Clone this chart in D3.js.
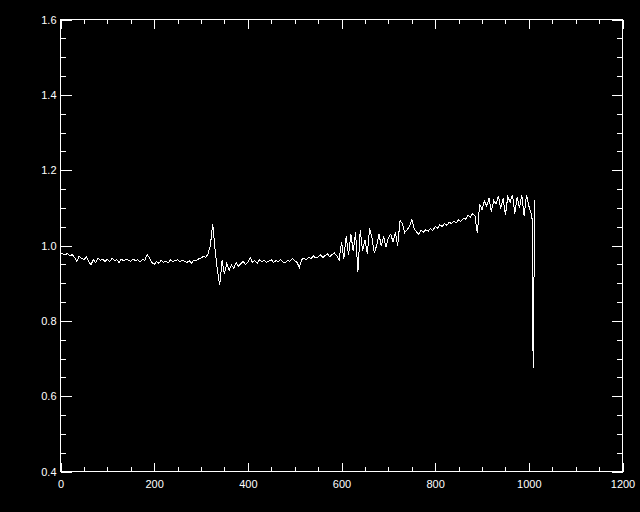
<!DOCTYPE html>
<html>
<head>
<meta charset="utf-8">
<script src="https://cdn.jsdelivr.net/npm/d3@7/dist/d3.min.js"></script>
<style>
  html, body { margin: 0; padding: 0; background: #000; }
  svg { display: block; }
  .axis text { fill: #fff; font-family: "Liberation Sans", Arial, sans-serif; font-size: 11px; }
  .axis line { stroke: #fff; }
</style>
</head>
<body>
<script>
// spectrum sampled every 5 units from x = 0 to 1005
var xStart = 0, xStep = 5;
var flux = [
  0.980, 0.978, 0.975, 0.979, 0.972, 0.976, 0.968, 0.958, 0.972, 0.966,
  0.962, 0.970, 0.958, 0.949, 0.962, 0.955, 0.967, 0.960, 0.964, 0.958,
  0.963, 0.957, 0.966, 0.960, 0.962, 0.955, 0.964, 0.959, 0.963, 0.961,
  0.958, 0.964, 0.960, 0.962, 0.957, 0.963, 0.961, 0.976, 0.968, 0.955,
  0.950, 0.957, 0.953, 0.961, 0.955, 0.959, 0.954, 0.962, 0.957, 0.960,
  0.962, 0.956, 0.961, 0.958, 0.955, 0.960, 0.953, 0.962, 0.959, 0.965,
  0.966, 0.972, 0.968, 0.978, 1.000, 1.058, 0.990, 0.935, 0.894, 0.960,
  0.925, 0.952, 0.934, 0.948, 0.940, 0.955, 0.945, 0.952, 0.958, 0.950,
  0.956, 0.968, 0.955, 0.960, 0.953, 0.962, 0.957, 0.961, 0.955, 0.959,
  0.962, 0.955, 0.960, 0.957, 0.963, 0.956, 0.954, 0.960, 0.958, 0.966,
  0.960, 0.955, 0.942, 0.963, 0.966, 0.962, 0.968, 0.965, 0.972, 0.967,
  0.970, 0.975, 0.968, 0.973, 0.978, 0.970, 0.976, 0.980, 0.972, 0.962,
  1.010, 0.965, 1.025, 0.975, 1.030, 0.985, 1.035, 0.930, 1.040, 0.985,
  1.015, 0.978, 1.045, 1.020, 0.980, 1.000, 1.030, 0.998, 1.025, 0.995,
  1.020, 1.030, 1.010, 1.035, 1.000, 1.066, 1.058, 1.034, 1.042, 1.050,
  1.069, 1.045, 1.036, 1.030, 1.040, 1.035, 1.042, 1.038, 1.045, 1.040,
  1.050, 1.046, 1.055, 1.050, 1.058, 1.054, 1.062, 1.058, 1.065, 1.060,
  1.068, 1.064, 1.072, 1.070, 1.080, 1.075, 1.085, 1.078, 1.032, 1.111,
  1.095, 1.118, 1.105, 1.125, 1.090, 1.120, 1.110, 1.132, 1.098, 1.125,
  1.080, 1.130, 1.115, 1.135, 1.085, 1.128, 1.100, 1.134, 1.078, 1.135,
  1.105, 1.085
];
// the sharp drop at the red edge
var edgeX = [1007, 1008, 1010, 1012, 1013];
var edgeFlux = [1.070, 0.758, 0.676, 1.120, 0.965];

var xTicks = [0, 200, 400, 600, 800, 1000, 1200];
var yTicks = [0.4, 0.6, 0.8, 1.0, 1.2, 1.4, 1.6];

var points = flux.map(function(v, i) { return [xStart + i * xStep, v]; });
for (var i = 0; i < edgeX.length; i++) {
  points.push([edgeX[i], edgeFlux[i]]);
}

var width = 640, height = 512;
var plotLeft = 60.5, plotRight = 622.5, plotTop = 19.5, plotBottom = 471.5;

var x = d3.scaleLinear().domain([0, 1200]).range([plotLeft, plotRight]);
var y = d3.scaleLinear().domain([0.4, 1.6]).range([plotBottom, plotTop]);

var svg = d3.select("body").append("svg")
    .attr("width", width)
    .attr("height", height)
    .style("background", "#000");

// minor tick positions (4 intervals between majors)
var xMinor = d3.range(0, 1200, 50).filter(function(d) { return d % 200 !== 0; });
var yMinor = d3.range(0.4, 1.6, 0.05).filter(function(d) { return Math.abs(d * 5 - Math.round(d * 5)) > 1e-6; });

function addAxis(axis, tx, ty) {
  var g = svg.append("g")
      .attr("class", "axis")
      .attr("transform", "translate(" + tx + "," + ty + ")")
      .attr("shape-rendering", "crispEdges")
      .call(axis);
  g.select(".domain").remove();
  return g;
}

// bottom
addAxis(d3.axisBottom(x).tickValues(xTicks).tickFormat(d3.format("d"))
  .tickSizeInner(-9).tickSizeOuter(0).tickPadding(9), 0, plotBottom);
addAxis(d3.axisBottom(x).tickValues(xMinor).tickFormat("")
  .tickSizeInner(-4.5).tickSizeOuter(0), 0, plotBottom);
// top
addAxis(d3.axisTop(x).tickValues(xTicks).tickFormat("")
  .tickSizeInner(-9).tickSizeOuter(0), 0, plotTop);
addAxis(d3.axisTop(x).tickValues(xMinor).tickFormat("")
  .tickSizeInner(-4.5).tickSizeOuter(0), 0, plotTop);
// left
addAxis(d3.axisLeft(y).tickValues(yTicks).tickFormat(d3.format(".1f"))
  .tickSizeInner(-11).tickSizeOuter(0).tickPadding(4), plotLeft, 0);
addAxis(d3.axisLeft(y).tickValues(yMinor).tickFormat("")
  .tickSizeInner(-5.6).tickSizeOuter(0), plotLeft, 0);
// right
addAxis(d3.axisRight(y).tickValues(yTicks).tickFormat("")
  .tickSizeInner(-11).tickSizeOuter(0), plotRight, 0);
addAxis(d3.axisRight(y).tickValues(yMinor).tickFormat("")
  .tickSizeInner(-5.6).tickSizeOuter(0), plotRight, 0);

// plot box
svg.append("rect")
    .attr("x", plotLeft)
    .attr("y", plotTop)
    .attr("width", plotRight - plotLeft)
    .attr("height", plotBottom - plotTop)
    .attr("fill", "none")
    .attr("stroke", "#fff")
    .attr("shape-rendering", "crispEdges");

var line = d3.line()
    .x(function(d) { return x(d[0]); })
    .y(function(d) { return y(d[1]); });

svg.append("path")
    .datum(points)
    .attr("d", line)
    .attr("fill", "none")
    .attr("stroke", "#fff")
    .attr("stroke-width", 1)
    .attr("shape-rendering", "crispEdges");
</script>
</body>
</html>
